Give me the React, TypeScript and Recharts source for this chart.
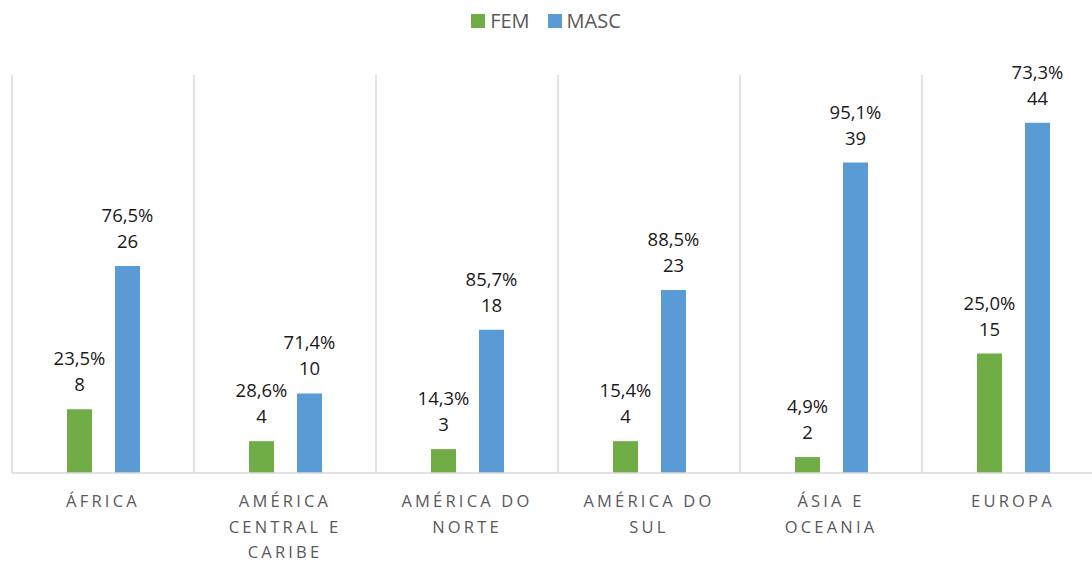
import { BarChart, Bar, XAxis, YAxis, CartesianGrid, LabelList } from 'recharts';

const regions = ['ÁFRICA', 'AMÉRICA\nCENTRAL E\nCARIBE', 'AMÉRICA DO\nNORTE', 'AMÉRICA DO\nSUL', 'ÁSIA E\nOCEANIA', 'EUROPA'];
const femCount = [8, 4, 3, 4, 2, 15];
const mascCount = [26, 10, 18, 23, 39, 44];
const femPct = ['23,5%', '28,6%', '14,3%', '15,4%', '4,9%', '25,0%'];
const mascPct = ['76,5%', '71,4%', '85,7%', '88,5%', '95,1%', '73,3%'];

const data = regions.map((name, i) => ({ name, fem: femCount[i], masc: mascCount[i] }));

const GREEN = '#70ad47';
const BLUE = '#5b9bd5';
const FONT = '"Open Sans", "Noto Sans", sans-serif';

function RegionTick(props: any) {
  const { x, y, payload } = props;
  const lines = String(payload.value).split('\n');
  return (
    <g>
      {lines.map((line, i) => (
        <text key={i} x={x} y={y + 26 + i * 25.5} textAnchor="middle" fill="#595959" fontSize={16.5} letterSpacing={3.2} fontFamily={FONT}>
          {line}
        </text>
      ))}
    </g>
  );
}

function makeLabel(pcts: string[]) {
  return (props: any) => {
    const { x, y, width, value, index } = props;
    const cx = Number(x) + Number(width) / 2;
    return (
      <g>
        <text x={cx} y={Number(y) - 44} textAnchor="middle" fill="#1a1a1a" fontSize={18.5} fontFamily={FONT}>{pcts[index]}</text>
        <text x={cx} y={Number(y) - 18} textAnchor="middle" fill="#1a1a1a" fontSize={18.5} fontFamily={FONT}>{value}</text>
      </g>
    );
  };
}

function Legend() {
  const item = (color: string, label: string, gap: number) => (
    <span style={{ display: 'inline-flex', alignItems: 'center', marginRight: gap }}>
      <span style={{ width: 14, height: 14, background: color, display: 'inline-block', marginRight: 5 }} />
      <span>{label}</span>
    </span>
  );
  return (
    <div style={{ position: 'absolute', top: 7, left: 0, width: 1092, textAlign: 'center', fontFamily: FONT, fontSize: 20, color: '#595959', lineHeight: '28px' }}>
      {item(GREEN, 'FEM', 18)}
      {item(BLUE, 'MASC', 0)}
    </div>
  );
}

export default function App() {
  return (
    <div style={{ position: 'absolute', left: 0, top: 0, width: 1092, height: 562, overflow: 'hidden', background: '#fff' }}>
      <Legend />
      <BarChart width={1110} height={562} data={data} margin={{ top: 75, right: 6, left: 12, bottom: 0 }} barSize={25} barGap={23}>
        <CartesianGrid
          horizontal={false}
          stroke="#d9d9d9"
          strokeWidth={1.5}
          verticalCoordinatesGenerator={({ offset }: any) => regions.map((_, i) => offset.left + (i * offset.width) / regions.length)}
        />
        <XAxis dataKey="name" interval={0} height={89} tickLine={false} axisLine={{ stroke: '#d9d9d9', strokeWidth: 1.5 }} tick={<RegionTick />} />
        <YAxis hide domain={[0, 50]} />
        <Bar dataKey="fem" fill={GREEN} isAnimationActive={false}>
          <LabelList dataKey="fem" content={makeLabel(femPct)} />
        </Bar>
        <Bar dataKey="masc" fill={BLUE} isAnimationActive={false}>
          <LabelList dataKey="masc" content={makeLabel(mascPct)} />
        </Bar>
      </BarChart>
    </div>
  );
}
